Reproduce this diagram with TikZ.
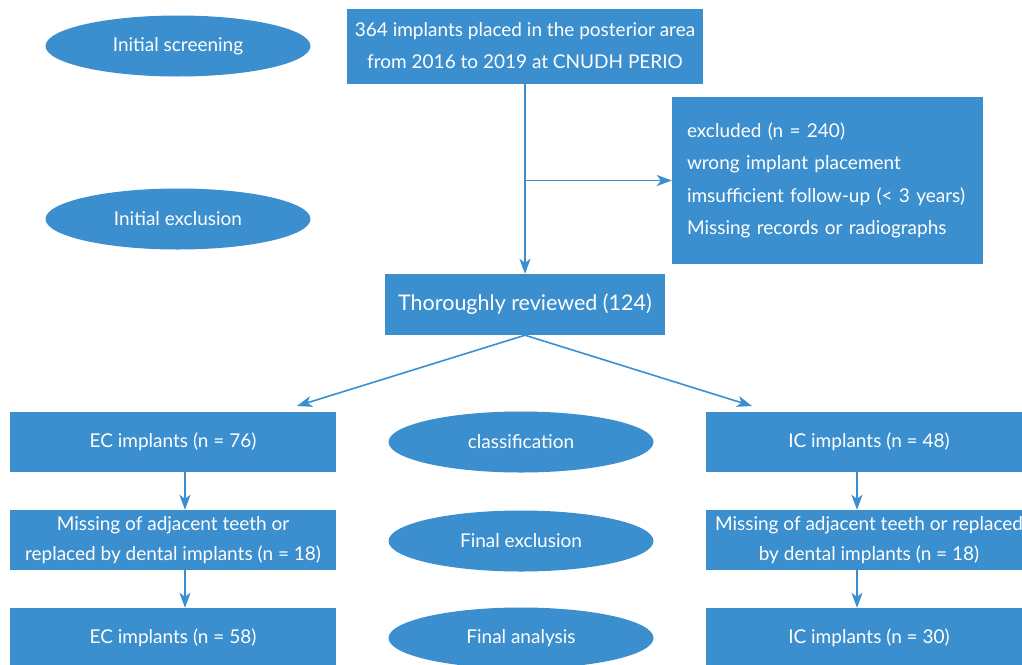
\documentclass[tikz,border=0pt]{standalone}
\usepackage{fontspec}
\setmainfont{Lato}
\usetikzlibrary{arrows.meta,shapes.geometric}
\definecolor{flowblue}{RGB}{59,143,206}
\begin{document}
\begin{tikzpicture}[
		  x=1pt, y=-1pt,
		  every node/.style={font=\fontsize{19}{32}\selectfont, text=white, inner sep=0pt}
		]

		\tikzset{
		    caixa/.style={fill=flowblue, minimum width=326pt, minimum height=60pt, align=center},
		    rotulo/.style={fill=flowblue, ellipse, minimum width=265pt, minimum height=61pt},
		    seta/.style={draw=flowblue, line width=1.6pt, -{Stealth[length=15pt, width=11pt, inset=4pt]}}
		}

		\useasboundingbox (0,0) rectangle (1022,664);

		% Stage labels
		\node[rotulo] (screen) at (178,46) {Initial screening};
		\node[rotulo] (initexcl) at (178,219) {Initial exclusion};
		\node[rotulo] (classif) at (521,442) {classification};
		\node[rotulo] (finexcl) at (521,541) {Final exclusion};
		\node[rotulo] (finan) at (521,638) {Final analysis};

		% Screening and exclusion
		\node[caixa, minimum width=356pt, minimum height=75pt] (placed) at (525,46)
		  {364 implants placed in the posterior area\\from 2016 to 2019 at CNUDH PERIO};
		\node[fill=flowblue, minimum width=311pt, minimum height=167pt, text width=281pt,
		      align=left, font=\fontsize{19}{32.5}\selectfont] (excluded) at (827.5,180.5)
		  {excluded (n = 240)\\wrong implant placement\\imsufficient follow-up (< 3 years)\\Missing records or radiographs};
		\node[caixa, minimum width=280pt, minimum height=61pt, font=\fontsize{21.5}{26}\selectfont] (reviewed) at (525,304.5)
		  {Thoroughly reviewed (124)};

		% EC branch
		\node[caixa] (ec) at (173,441.5) {EC implants (n = 76)};
		\node[caixa, font=\fontsize{19}{29.5}\selectfont] (ecmiss) at (173,540) {Missing of adjacent teeth or\\replaced by dental implants (n = 18)};
		\node[caixa] (ecfinal) at (173,638) {EC implants (n = 58)};

		% IC branch
		\node[caixa] (ic) at (869,441.5) {IC implants (n = 48)};
		\node[caixa, font=\fontsize{19}{29.5}\selectfont] (icmiss) at (869,540) {Missing of adjacent teeth or replaced\\by dental implants (n = 18)};
		\node[caixa] (icfinal) at (869,638) {IC implants (n = 30)};

		% Connectors
		\coordinate (ecin) at (297,406);
		\coordinate (icin) at (752,406);
		\coordinate (colL) at (185,0);
		\coordinate (colR) at (857,0);

		\draw[seta] (placed.south) -- (reviewed.north);
		\draw[seta] (placed.south |- excluded.west) -- (excluded.west);
		\draw[seta] (reviewed.south) -- (ecin);
		\draw[seta] (reviewed.south) -- (icin);
		\draw[seta] (ec.south -| colL) -- (ecmiss.north -| colL);
		\draw[seta] (ecmiss.south -| colL) -- (ecfinal.north -| colL);
		\draw[seta] (ic.south -| colR) -- (icmiss.north -| colR);
		\draw[seta] (icmiss.south -| colR) -- (icfinal.north -| colR);

		\end{tikzpicture}
\end{document}
